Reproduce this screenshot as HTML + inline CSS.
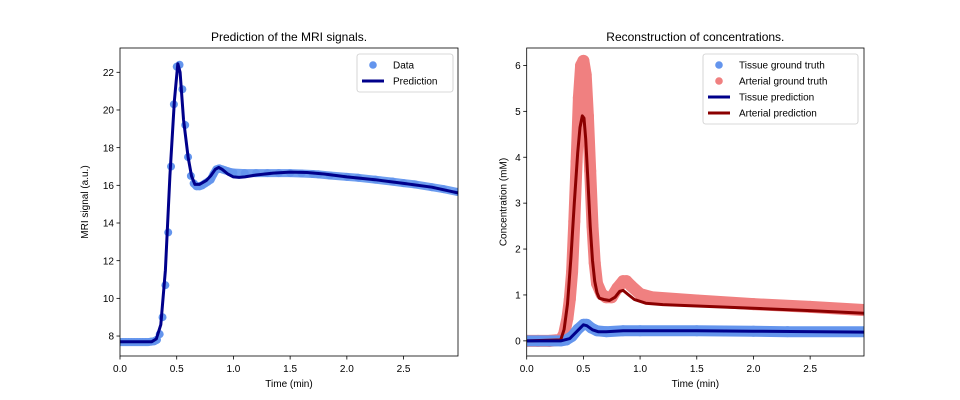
<!DOCTYPE html>
<html><head><meta charset="utf-8"><style>
html,body{margin:0;padding:0;background:#fff;}
svg{display:block;font-family:"Liberation Sans","DejaVu Sans",sans-serif;}
</style></head><body>
<svg id="fig" width="960" height="400" viewBox="0 0 960 400" xmlns="http://www.w3.org/2000/svg"></svg>
<script>
// ---- Left chart data ----
const sigDataTimes = [0,0.025,0.05,0.075,0.1,0.125,0.15,0.175,0.2,0.225,0.25,0.275,0.3,0.325,0.35,0.375,0.4,0.425,0.45,0.475,0.5,0.525,0.55,0.575,0.6,0.625,0.65,0.675,0.7,0.725,0.75,0.775,0.8,0.825,0.85,0.875,0.9,0.925,0.95,0.975,1.0,1.1,1.2,1.3,1.4,1.5,1.6,1.7,1.75,1.85,2.0,2.1,2.25,2.4,2.5,2.6,2.75,2.85,2.975];
const sigDataValues = [7.68,7.68,7.68,7.68,7.68,7.68,7.68,7.68,7.68,7.68,7.68,7.7,7.72,7.8,8.1,9.0,10.7,13.5,17.0,20.3,22.3,22.4,21.1,19.2,17.5,16.5,16.1,15.95,15.95,16.0,16.1,16.2,16.3,16.6,16.85,16.9,16.85,16.8,16.75,16.7,16.68,16.65,16.65,16.65,16.65,16.65,16.63,16.6,16.58,16.52,16.45,16.4,16.3,16.2,16.12,16.05,15.9,15.8,15.65];
const sigPredTimes = [0,0.28,0.32,0.36,0.4,0.44,0.48,0.51,0.53,0.56,0.6,0.63,0.66,0.7,0.76,0.8,0.84,0.87,0.9,0.95,1.0,1.05,1.1,1.2,1.35,1.5,1.65,1.8,2.0,2.25,2.5,2.75,2.98];
const sigPredValues = [7.7,7.7,7.85,8.6,11.5,16.5,20.5,22.45,22.0,19.5,17.5,16.5,16.05,16.05,16.25,16.5,16.85,16.95,16.85,16.6,16.45,16.42,16.45,16.55,16.65,16.7,16.68,16.6,16.45,16.3,16.1,15.9,15.6];
const leftYTicks = [8,10,12,14,16,18,20,22];
const xTicks = [0,0.5,1.0,1.5,2.0,2.5];
const xTickLabels = ["0.0","0.5","1.0","1.5","2.0","2.5"];
// ---- Right chart data ----
const artTruthTimes = [0,0.1,0.2,0.3,0.33,0.36,0.38,0.4,0.42,0.44,0.46,0.48,0.5,0.52,0.54,0.56,0.58,0.6,0.62,0.66,0.7,0.75,0.8,0.85,0.88,0.92,1.0,1.1,1.5,2.0,2.5,2.98];
const artTruthValues = [0.0,0.0,0.0,0.02,0.15,0.5,0.9,1.5,2.6,3.9,5.3,6.0,6.1,5.8,4.9,3.7,2.5,1.7,1.25,1.02,0.95,0.95,1.15,1.3,1.3,1.2,1.02,0.95,0.88,0.8,0.74,0.67];
const tisTruthTimes = [0,0.1,0.2,0.3,0.35,0.4,0.45,0.5,0.53,0.57,0.62,0.7,0.85,1.0,1.5,2.0,2.3,2.98];
const tisTruthValues = [0.0,0.0,0.0,0.0,0.02,0.1,0.25,0.36,0.36,0.28,0.22,0.2,0.22,0.22,0.22,0.21,0.2,0.2];
const artPredTimes = [0,0.3,0.33,0.36,0.39,0.42,0.45,0.47,0.49,0.505,0.52,0.54,0.56,0.58,0.6,0.62,0.64,0.68,0.73,0.78,0.82,0.85,0.9,0.95,1.05,1.2,1.5,2.0,2.5,2.98];
const artPredValues = [0.0,0.02,0.25,0.8,1.8,3.0,4.1,4.65,4.9,4.85,4.4,3.5,2.5,1.75,1.3,1.05,0.93,0.9,0.88,0.95,1.08,1.1,1.0,0.9,0.82,0.79,0.76,0.71,0.66,0.6];
const tisPredTimes = [0,0.3,0.38,0.44,0.5,0.53,0.58,0.63,0.7,0.85,1.5,2.0,2.98];
const tisPredValues = [0.0,0.0,0.05,0.2,0.35,0.33,0.24,0.2,0.2,0.22,0.22,0.21,0.19];
const rightYTicks = [0,1,2,3,4,5,6];

const NS="http://www.w3.org/2000/svg";
const svg=document.getElementById('fig');
function mk(tag,attrs,parent){const e=document.createElementNS(NS,tag);for(const k in attrs)e.setAttribute(k,attrs[k]);(parent||svg).appendChild(e);return e;}

function makeAxes(x0,x1,y0,y1,xmin,xmax,ymin,ymax){
  return {sx:v=>x0+(v-xmin)/(xmax-xmin)*(x1-x0), sy:v=>y1-(v-ymin)/(ymax-ymin)*(y1-y0), x0,x1,y0,y1};
}
function polyline(ax,ts,vs,color,w,name,g){
  const pts=ts.map((t,i)=>ax.sx(t).toFixed(1)+','+ax.sy(vs[i]).toFixed(1)).join(' ');
  const p=mk('polyline',{points:pts,fill:'none',stroke:color,'stroke-width':w,'stroke-linejoin':'round','stroke-linecap':'round'},g);
  
  
}
function dots(ax,ts,vs,color,r,name,g){
  ts.forEach((t,i)=>{
    const c=mk('circle',{cx:ax.sx(t),cy:ax.sy(vs[i]),r:r,fill:color},g);
    
    
  });
}
function frame(ax,yt,ytl,title,ylabel,prefix){
  const g=mk('g',{});
  
  
  mk('rect',{x:ax.x0,y:ax.y0,width:ax.x1-ax.x0,height:ax.y1-ax.y0,fill:'none',stroke:'#000','stroke-width':0.8},g);
  xTicks.forEach((v,i)=>{
    const x=ax.sx(v);
    mk('line',{x1:x,x2:x,y1:ax.y1,y2:ax.y1+3.5,stroke:'#000','stroke-width':0.8},g);
    const t=mk('text',{x:x,y:ax.y1+16,'font-size':10,'text-anchor':'middle',fill:'#000'},g);
    t.textContent=xTickLabels[i];
    
    
  });
  yt.forEach(v=>{
    const y=ax.sy(v);
    mk('line',{x1:ax.x0-3.5,x2:ax.x0,y1:y,y2:y,stroke:'#000','stroke-width':0.8},g);
    const t=mk('text',{x:ax.x0-6,y:y+3.6,'font-size':10,'text-anchor':'end',fill:'#000'},g);
    t.textContent=String(v);
    
    
  });
  const tt=mk('text',{x:(ax.x0+ax.x1)/2,y:ax.y0-7,'font-size':12,'text-anchor':'middle',fill:'#000'});
  tt.textContent=title;
  
  
  const xl=mk('text',{x:(ax.x0+ax.x1)/2,y:ax.y1+31,'font-size':10,'text-anchor':'middle',fill:'#000'});
  xl.textContent='Time (min)';
  
  
  const yc=(ax.y0+ax.y1)/2, xx=ax.x0-ytl;
  const yl=mk('text',{x:xx,y:yc,'font-size':10,'text-anchor':'middle',fill:'#000',transform:`rotate(-90 ${xx} ${yc})`});
  yl.textContent=ylabel;
  
  
}

// Left chart
const L=makeAxes(120,458,48,356,0,2.98,6.94,23.29);
const defs=mk('defs',{});
const cpL=mk('clipPath',{id:'clipL'},defs); mk('rect',{x:120,y:48,width:338,height:308},cpL);
const cpR=mk('clipPath',{id:'clipR'},defs); mk('rect',{x:527,y:48,width:337,height:308},cpR);
const gL=mk('g',{'clip-path':'url(#clipL)'});


polyline(L,sigDataTimes.slice(26),sigDataValues.slice(26),'#6f9ff0',8,'data-band',gL);
polyline(L,sigDataTimes.slice(0,14),sigDataValues.slice(0,14),'#6f9ff0',8,'data-band',gL);
dots(L,sigDataTimes,sigDataValues,'#6495ed',4,'data-point',gL);
polyline(L,sigPredTimes,sigPredValues,'#00008b',3,'prediction-line',gL);
frame(L,leftYTicks,32,'Prediction of the MRI signals.','MRI signal (a.u.)','left');

// Right chart
const R=makeAxes(526.7,864,48,356,0,2.975,-0.33,6.38);
const gR=mk('g',{'clip-path':'url(#clipR)'});


polyline(R,artTruthTimes,artTruthValues,'#f08080',12,'arterial-ground-truth-band',gR);
dots(R,artTruthTimes,artTruthValues,'#f08080',6,'arterial-ground-truth-point',gR);
polyline(R,tisTruthTimes,tisTruthValues,'#6495ed',11,'tissue-ground-truth-band',gR);
dots(R,tisTruthTimes,tisTruthValues,'#6495ed',5.5,'tissue-ground-truth-point',gR);
polyline(R,artPredTimes,artPredValues,'#8b0000',3,'arterial-prediction-line',gR);
polyline(R,tisPredTimes,tisPredValues,'#00008b',3,'tissue-prediction-line',gR);
frame(R,rightYTicks,20,'Reconstruction of concentrations.','Concentration (mM)','right');

// Legends
function legend(x,y,w,entries,name){
  const g=mk('g',{});
  
  
  mk('rect',{x:x,y:y,width:w,height:entries.length*16+6,rx:2.5,fill:'#fff','fill-opacity':0.8,stroke:'#ccc','stroke-width':0.8},g);
  entries.forEach((e,i)=>{
    const cy=y+11+i*16;
    if(e.type==='dot') mk('circle',{cx:x+16,cy:cy,r:3.8,fill:e.color},g);
    else mk('line',{x1:x+5,x2:x+27,y1:cy,y2:cy,stroke:e.color,'stroke-width':3},g);
    const t=mk('text',{x:x+36,y:cy+3.6,'font-size':10,fill:'#000'},g);
    t.textContent=e.label;
    
    
  });
}
legend(357,54,96,[{type:'dot',color:'#6495ed',label:'Data'},{type:'line',color:'#00008b',label:'Prediction'}],'left-legend');
legend(703,54,155,[{type:'dot',color:'#6495ed',label:'Tissue ground truth'},{type:'dot',color:'#f08080',label:'Arterial ground truth'},{type:'line',color:'#00008b',label:'Tissue prediction'},{type:'line',color:'#8b0000',label:'Arterial prediction'}],'right-legend');
</script>
</body></html>
